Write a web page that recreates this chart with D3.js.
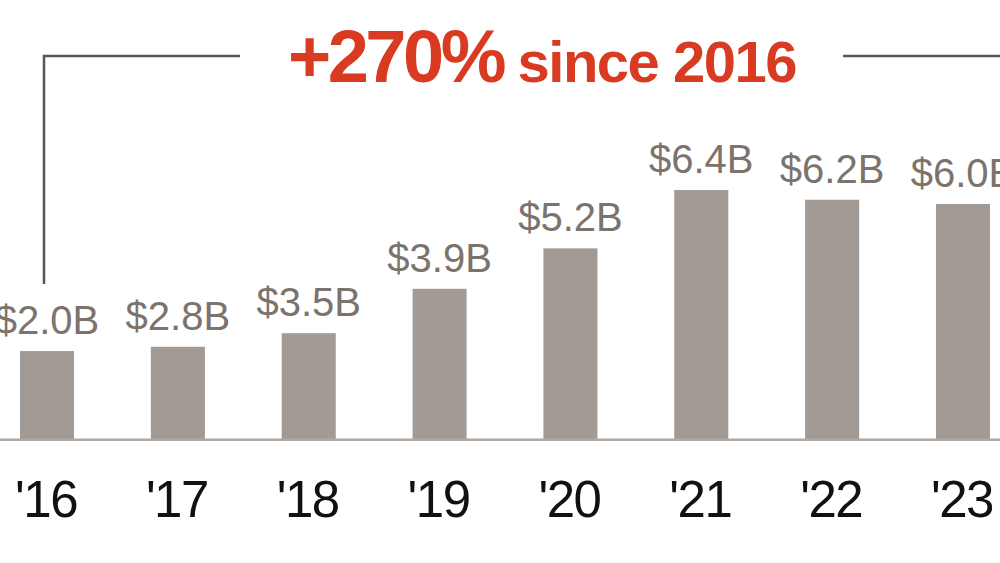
<!DOCTYPE html>
<html>
<head>
<meta charset="utf-8">
<script src="https://cdn.jsdelivr.net/npm/d3@7"></script>
<style>
  html, body { margin: 0; padding: 0; background: #fff; }
  svg { display: block; font-family: "Liberation Sans", Arial, Helvetica, sans-serif; }
</style>
</head>
<body>
<script>
const width = 1000;
const height = 563;

// years on the x axis
const years = ["'16", "'17", "'18", "'19", "'20", "'21", "'22", "'23"];
// value labels printed above the bars
const valueLabels = ["$2.0B", "$2.8B", "$3.5B", "$3.9B", "$5.2B", "$6.4B", "$6.2B", "$6.0B"];
// bar heights as drawn in the picture ($B, not quite to scale with the labels)
const barValues = [2.26, 2.37, 2.72, 3.86, 4.90, 6.40, 6.15, 6.04];

const headline = "+270%";
const headlineRest = " since 2016";

const baseY = 439;

const svg = d3.select("body")
    .append("svg")
    .attr("width", width)
    .attr("height", height);

const x = d3.scaleBand()
    .domain(years)
    .range([20, 990])
    .paddingInner(0.587)
    .paddingOuter(0);

const y = d3.scaleLinear()
    .domain([0, 6.4])
    .range([baseY, 190]);

// bracket around the headline
svg.append("path")
    .attr("d", "M44,284 V56 H240 M843,56 H1000")
    .attr("fill", "none")
    .attr("stroke", "#5b5651")
    .attr("stroke-width", 2.5);

const title = svg.append("text")
    .attr("x", 542)
    .attr("y", 82)
    .attr("text-anchor", "middle")
    .attr("fill", "#d93a22")
    .attr("font-weight", "bold");
title.append("tspan")
    .attr("font-size", 74)
    .attr("letter-spacing", -3.5)
    .text(headline);
title.append("tspan")
    .attr("font-size", 58)
    .attr("letter-spacing", -1.5)
    .text(headlineRest);

// bars
svg.selectAll(".bar")
    .data(years)
    .enter()
    .append("rect")
    .attr("class", "bar")
    .attr("x", d => x(d))
    .attr("width", x.bandwidth())
    .attr("y", (d, i) => y(barValues[i]))
    .attr("height", (d, i) => y(0) - y(barValues[i]))
    .attr("fill", "#a29a94");

// value labels
svg.selectAll(".val")
    .data(years)
    .enter()
    .append("text")
    .attr("class", "val")
    .attr("x", d => x(d) + x.bandwidth() / 2)
    .attr("y", (d, i) => y(barValues[i]) - 17)
    .attr("text-anchor", "middle")
    .attr("font-size", 40)
    .attr("fill", "#7b736c")
    .text((d, i) => valueLabels[i]);

// baseline
svg.append("line")
    .attr("x1", 0)
    .attr("x2", width)
    .attr("y1", baseY + 0.8)
    .attr("y2", baseY + 0.8)
    .attr("stroke", "#b1a9a1")
    .attr("stroke-width", 2.5);

// year labels
const xAxis = svg.append("g")
    .attr("transform", "translate(0," + baseY + ")")
    .call(d3.axisBottom(x).tickSize(0).tickPadding(0));
xAxis.select(".domain").remove();
xAxis.selectAll("text")
    .attr("y", 78)
    .attr("dy", 0)
    .attr("dx", -1)
    .attr("font-family", "\"Liberation Sans\", Arial, sans-serif")
    .attr("font-size", 51)
    .attr("letter-spacing", -1.5)
    .attr("fill", "#111");
</script>
</body>
</html>
